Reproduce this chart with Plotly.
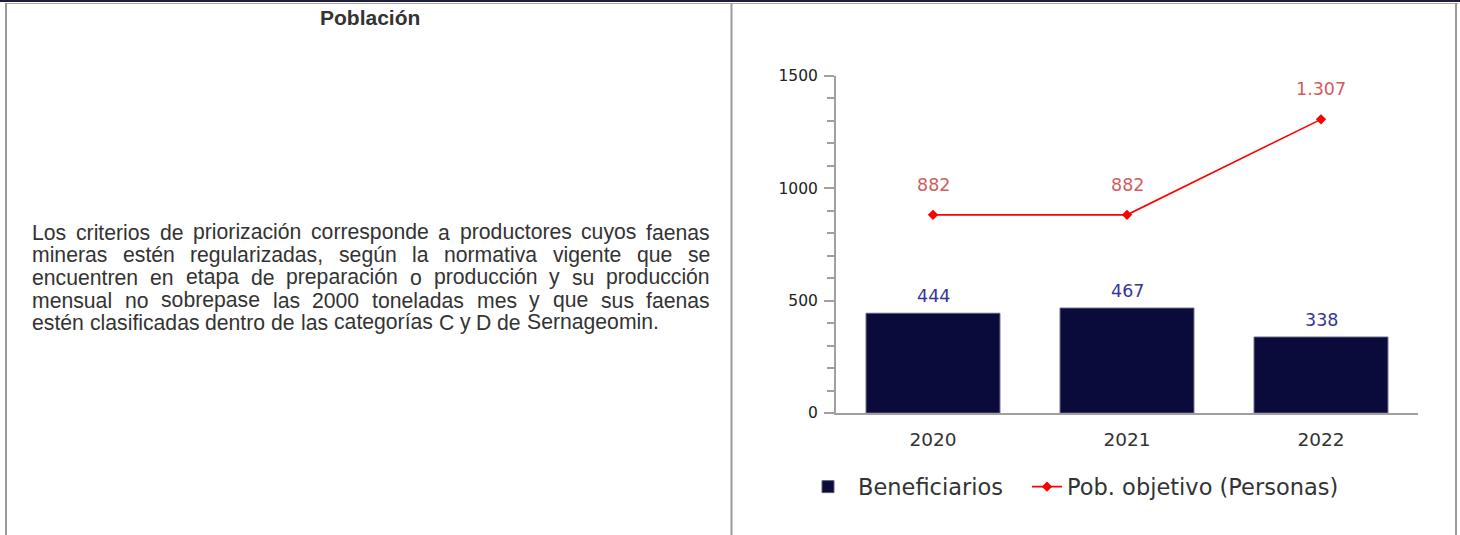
import plotly.graph_objects as go

# ---------------- data ----------------
years = ["2020", "2021", "2022"]
beneficiarios = [444, 467, 338]
pob_objetivo = [882, 882, 1307]
y_tick_vals = [0, 500, 1000, 1500]
series_names = ["Beneficiarios", "Pob. objetivo (Personas)"]

header_text = "Población"
paragraph_lines = [
    "Los criterios de priorización corresponde a productores cuyos faenas",
    "mineras estén regularizadas, según la normativa vigente que se",
    "encuentren en etapa de preparación o producción y su producción",
    "mensual no sobrepase las 2000 toneladas mes y que sus faenas",
    "estén clasificadas dentro de las categorías C y D de Sernageomin.",
]

# ---------------- layout helpers ----------------
W, H = 1460, 535


def px(x):
    return x / W


def py(y):
    return 1 - y / H


def fmt_es(v):
    return f"{v:,}".replace(",", ".")


# Arial / Liberation Sans advance widths (per 1000 em) for justification
AW = {" ": 278, ",": 278, ".": 278}
for ch, w in zip("abcdefghijklmnopqrstuvwxyz",
                 [556, 556, 500, 556, 556, 278, 556, 556, 222, 222, 500, 222, 833,
                  556, 556, 556, 556, 333, 500, 278, 556, 500, 722, 500, 500, 500]):
    AW[ch] = w
for ch, w in zip("ABCDEFGHIJKLMNOPQRSTUVWXYZ",
                 [667, 667, 722, 722, 667, 611, 778, 722, 278, 500, 667, 556, 833,
                  722, 778, 667, 778, 722, 667, 611, 722, 667, 944, 667, 667, 611]):
    AW[ch] = w
for ch in "0123456789áéóúñ":
    AW[ch] = 556
AW["í"] = 278


def text_w(s, size):
    return sum(AW.get(c, 556) for c in s) * size / 1000.0


BODY_SIZE = 21.2
TEXT_L, TEXT_R = 31, 709
LINE_Y = [232, 255, 277, 300, 322]
TEXT_FONT = dict(family="Liberation Sans, Arial, sans-serif", size=BODY_SIZE, color="#333333")
LABEL_FONT = "DejaVu Sans"

fig = go.Figure()

fig.add_trace(go.Bar(
    x=years, y=beneficiarios, name=series_names[0], width=0.69,
    marker=dict(color="#0b0b3b", line=dict(color="#5c5c7c", width=1)),
    hoverinfo="skip", legend="legend",
))
fig.add_trace(go.Scatter(
    x=years, y=pob_objetivo, name=series_names[1], mode="lines+markers",
    line=dict(color="#ff0000", width=1.6),
    marker=dict(symbol="diamond", size=8, color="#ff0000"),
    hoverinfo="skip", legend="legend2",
))

annotations = []
for i, v in enumerate(beneficiarios):
    annotations.append(dict(x=i, y=v, xref="x", yref="y", text=fmt_es(v), showarrow=False,
                            yshift=17, font=dict(family=LABEL_FONT, size=17.5, color="#35359a")))
for i, v in enumerate(pob_objetivo):
    annotations.append(dict(x=i, y=v, xref="x", yref="y", text=fmt_es(v), showarrow=False,
                            yshift=30, font=dict(family=LABEL_FONT, size=17.5, color="#d25c5c")))

# header
annotations.append(dict(x=px(370), y=py(18), xref="paper", yref="paper", text=f"<b>{header_text}</b>",
                        showarrow=False, xanchor="center", yanchor="middle",
                        font=dict(family="Liberation Sans, Arial, sans-serif", size=21, color="#333333")))

# justified paragraph
for i, line in enumerate(paragraph_lines):
    words = line.split()
    last = i == len(paragraph_lines) - 1
    space = text_w(" ", BODY_SIZE)
    if not last and len(words) > 1:
        total = sum(text_w(w, BODY_SIZE) for w in words)
        space = (TEXT_R - TEXT_L - total) / (len(words) - 1)
    xpos = TEXT_L
    for w in words:
        annotations.append(dict(x=px(xpos), y=py(LINE_Y[i]), xref="paper", yref="paper", text=w,
                                showarrow=False, xanchor="left", yanchor="middle", borderpad=0,
                                font=TEXT_FONT))
        xpos += text_w(w, BODY_SIZE) + space

shapes = [
    dict(type="rect", xref="paper", yref="paper", x0=0, x1=1, y0=py(2), y1=1,
         fillcolor="#1e1e3c", line=dict(width=0), layer="above"),
    dict(type="line", xref="paper", yref="paper", x0=px(5), x1=px(1458), y0=py(3.5), y1=py(3.5),
         line=dict(color="#a8a8a8", width=1), layer="above"),
    dict(type="line", xref="paper", yref="paper", x0=px(6), x1=px(6), y0=py(3), y1=0,
         line=dict(color="#9a9a9a", width=2), layer="above"),
    dict(type="line", xref="paper", yref="paper", x0=px(731.5), x1=px(731.5), y0=py(3), y1=0,
         line=dict(color="#9a9a9a", width=2), layer="above"),
    dict(type="line", xref="paper", yref="paper", x0=px(1456), x1=px(1456), y0=py(3), y1=0,
         line=dict(color="#9a9a9a", width=2), layer="above"),
]

legend_common = dict(orientation="h", xanchor="left", yanchor="middle",
                     font=dict(family="DejaVu Sans", size=22.5, color="#333333"),
                     bgcolor="rgba(0,0,0,0)", itemclick=False, itemdoubleclick=False)

fig.update_layout(
    width=W, height=H,
    margin=dict(l=0, r=0, t=0, b=0, autoexpand=False),
    paper_bgcolor="white", plot_bgcolor="white",
    font=dict(family="DejaVu Sans", color="#333333"),
    showlegend=True,
    legend=dict(x=px(798), y=py(487), itemwidth=50, **legend_common),
    legend2=dict(x=px(1027), y=py(487), itemwidth=30, **legend_common),
    annotations=annotations,
    shapes=shapes,
)

fig.update_xaxes(
    domain=[px(836), px(1418)], range=[-0.5, 2.5], type="category",
    showline=True, linecolor="#a0a0a0", linewidth=2, ticks="", showgrid=False,
    tickfont=dict(family="DejaVu Sans", size=18.5, color="#333333"), ticklabelstandoff=9,
    zeroline=False, fixedrange=True,
)
fig.update_yaxes(
    domain=[py(413), py(76)], range=[0, 1500], tickvals=y_tick_vals,
    showline=True, linecolor="#a0a0a0", linewidth=2, ticks="outside", ticklen=10,
    tickcolor="#a0a0a0", tickwidth=1.5, showgrid=False, zeroline=False,
    tickfont=dict(family="DejaVu Sans", size=15.5, color="#222222"), ticklabelstandoff=3,
    minor=dict(dtick=100, ticks="outside", ticklen=7, tickcolor="#a0a0a0", tickwidth=1.5),
    fixedrange=True,
)

fig.write_html("out.html", config={"displayModeBar": False},
               post_script="document.body.style.margin='0px';")
